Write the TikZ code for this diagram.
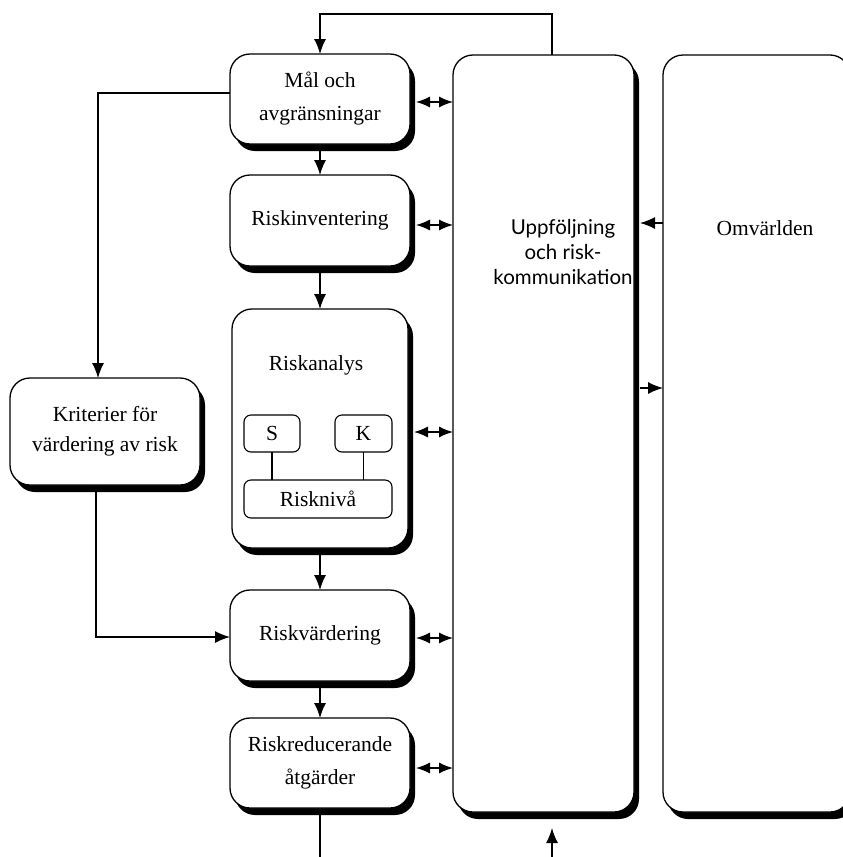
\documentclass[tikz,border=0pt]{standalone}
\usepackage{fontspec}
\setmainfont{Liberation Serif}
\newfontfamily\uppfont{Lato}
\usetikzlibrary{arrows.meta,shadows}
\begin{document}
\begin{tikzpicture}[x=1pt,y=-1pt,
  mainbox/.style={draw=black,line width=1.3pt,fill=white,rounded corners=20pt,align=center,inner sep=0pt,outer sep=0pt,
    font=\fontsize{21.5}{33}\selectfont,
    drop shadow={opacity=1,fill=black,shadow xshift=5pt,shadow yshift=-7pt}},
  smallbox/.style={draw=black,line width=1.1pt,fill=white,rounded corners=7pt,inner sep=0pt,outer sep=0pt,
    font=\fontsize{21.5}{24}\selectfont},
  lbl/.style={align=center,inner sep=0pt,font=\fontsize{21.5}{33}\selectfont},
  arr/.style={line width=1.3pt,-{Latex[length=15pt,width=12pt]}},
  darr/.style={line width=1.3pt,{Latex[length=14pt,width=11pt]}-{Latex[length=14pt,width=11pt]}},
  ln/.style={line width=1.3pt}]
\useasboundingbox (0,0) rectangle (843,857);
\clip (0,0) rectangle (843,857);

% main column
\node[mainbox,minimum width=180pt,minimum height=90pt] (mal) at (320,99) {Mål och\\avgränsningar};
\node[mainbox,minimum width=180pt,minimum height=91pt] (inv) at (320,220.5) {Riskinventering};
\node[mainbox,minimum width=176pt,minimum height=239pt] (ana) at (320,428.5) {};
\node[lbl] (anaT) at (316,365) {Riskanalys};
\node[smallbox,minimum width=56pt,minimum height=37pt] (S) at (272,433.5) {S};
\node[smallbox,minimum width=57pt,minimum height=37pt] (K) at (363.5,433.5) {K};
\node[smallbox,minimum width=148pt,minimum height=38pt] (niva) at (318,499) {Risknivå};
\draw[ln] (S.south) -- (S.south |- niva.north);
\draw[ln] (K.south) -- (K.south |- niva.north);
\node[mainbox,minimum width=180pt,minimum height=91pt] (varde) at (320,635.5) {Riskvärdering};
\node[mainbox,minimum width=180pt,minimum height=90pt] (red) at (320,763) {Riskreducerande\\åtgärder};

% left criteria box
\node[mainbox,minimum width=190pt,minimum height=107pt,font=\fontsize{21.5}{30}\selectfont] (krit) at (105,431.5) {Kriterier för\\värdering av risk};

% right columns
\node[mainbox,minimum width=181pt,minimum height=757pt] (upp) at (543.5,433.5) {};
\node[lbl,font=\uppfont\fontsize{20.5}{25}\selectfont] (uppT) at (563,252) {Uppföljning\\och risk-\\kommunikation};
\node[mainbox,minimum width=187pt,minimum height=757pt] (omv) at (756.5,433.5) {};
\node[lbl] (omvT) at (765,228) {Omvärlden};

% vertical flow
\draw[arr] ([yshift=-7pt]mal.south) -- (inv.north);
\draw[arr] ([yshift=-7pt]inv.south) -- (ana.north);
\draw[arr] ([yshift=-7pt]ana.south) -- (varde.north);
\draw[arr] ([yshift=-7pt]varde.south) -- (red.north);
\coordinate (b1) at (320,857);
\draw[ln] ([yshift=-7pt]red.south) -- (b1);

% feedback on top
\coordinate (fb) at (552,14);
\draw[arr] (fb |- upp.north) -- (fb) -| (mal.north);

% bottom arrow into Uppfoljning
\coordinate (b2) at (552,857);
\coordinate (b2t) at (552,828);
\draw[arr] (b2) -- (b2t);

% criteria connectors
\coordinate (kt) at (98,93);
\draw[arr] (mal.west |- kt) -- (kt) -- (kt |- krit.north);
\coordinate (kb) at (96,637);
\draw[arr] (kb |- krit.south) -- (kb) -- (varde.west |- kb);

% double arrows to Uppfoljning
\coordinate (a1) at (416,102);
\coordinate (a2) at (416,225);
\coordinate (a3) at (414,432);
\coordinate (a4) at (416,638);
\coordinate (a5) at (416,768);
\draw[darr] (a1) -- (upp.west |- a1);
\draw[darr] (a2) -- (upp.west |- a2);
\draw[darr] (a3) -- (upp.west |- a3);
\draw[darr] (a4) -- (upp.west |- a4);
\draw[darr] (a5) -- (upp.west |- a5);

% Omvarlden <-> Uppfoljning
\coordinate (o1) at (640,223);
\coordinate (o2) at (640,388);
\draw[arr] (omv.west |- o1) -- (o1);
\draw[arr] (o2) -- (omv.west |- o2);
\end{tikzpicture}
\end{document}
